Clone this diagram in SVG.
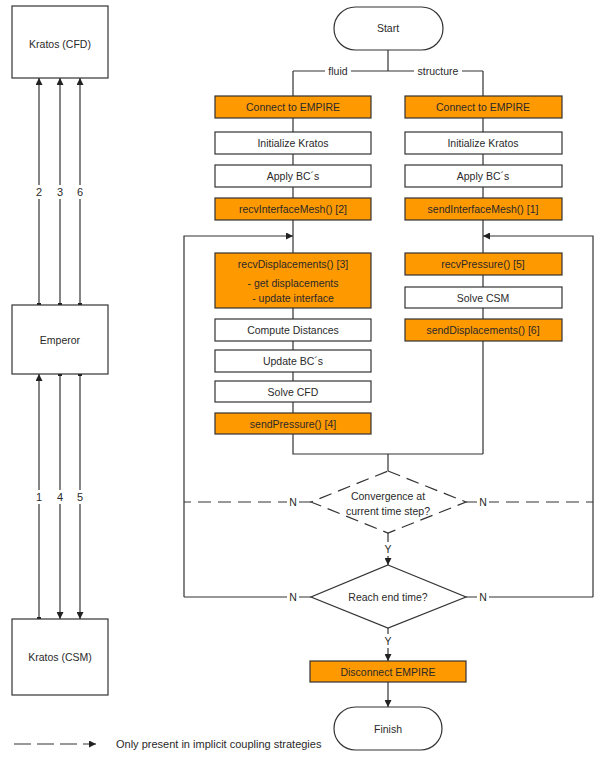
<svg xmlns="http://www.w3.org/2000/svg" width="600" height="762" viewBox="0 0 600 762">
<style>
text{font-family:"Liberation Sans",Arial,sans-serif;font-size:10.5px;fill:#2a2a2a;text-anchor:middle;dominant-baseline:central}
.box{fill:#fff;stroke:#333;stroke-width:1.2}
.or{fill:#ff9900;stroke:#333;stroke-width:1.2}
.ln{fill:none;stroke:#333;stroke-width:1.2}
.dash{fill:none;stroke:#333;stroke-width:1.2;stroke-dasharray:13 7}
.lbl{fill:#fff;stroke:none}
</style>
<defs>
<marker id="ah" viewBox="0 0 10 10" refX="10" refY="5" markerWidth="7" markerHeight="7" markerUnits="userSpaceOnUse" orient="auto"><path d="M0,0 L10,5 L0,10 z" fill="#222"/></marker>
<marker id="dot" viewBox="0 0 4 4" refX="2" refY="2" markerWidth="4" markerHeight="4" markerUnits="userSpaceOnUse"><rect width="4" height="4" fill="#222"/></marker>
</defs>
<rect width="600" height="762" fill="#fff"/>

<g id="connectors">
<path class="ln" d="M39,305 V78" marker-start="url(#dot)" marker-end="url(#ah)"/>
<path class="ln" d="M60,305 V78" marker-start="url(#dot)" marker-end="url(#ah)"/>
<path class="ln" d="M80,305 V78" marker-start="url(#dot)" marker-end="url(#ah)"/>
<path class="ln" d="M39,619 V374" marker-start="url(#dot)" marker-end="url(#ah)"/>
<path class="ln" d="M60,374 V619" marker-start="url(#dot)" marker-end="url(#ah)"/>
<path class="ln" d="M80,374 V619" marker-start="url(#dot)" marker-end="url(#ah)"/>
<rect class="lbl" x="34" y="185" width="10" height="14"/>
<rect class="lbl" x="55" y="185" width="10" height="14"/>
<rect class="lbl" x="75" y="185" width="10" height="14"/>
<rect class="lbl" x="34" y="490" width="10" height="14"/>
<rect class="lbl" x="55" y="490" width="10" height="14"/>
<rect class="lbl" x="75" y="490" width="10" height="14"/>
<text x="39" y="192" style="font-size:11px">2</text><text x="60" y="192" style="font-size:11px">3</text><text x="80" y="192" style="font-size:11px">6</text>
<text x="39" y="497" style="font-size:11px">1</text><text x="60" y="497" style="font-size:11px">4</text><text x="80" y="497" style="font-size:11px">5</text>

<path class="ln" d="M388,50 V71 M293,71 H483 M293,71 V96 M483,71 V96"/>
<rect class="lbl" x="325" y="64" width="26" height="14"/>
<rect class="lbl" x="414" y="64" width="48" height="14"/>
<text x="338" y="71">fluid</text>
<text x="438" y="71">structure</text>
<path class="ln" d="M293,118 V132 M293,154 V165 M293,187 V198 M293,220 V253 M293,308 V319 M293,341 V350 M293,372 V381 M293,402 V413 M293,434 V454 H483"/>
<path class="ln" d="M483,118 V132 M483,154 V165 M483,187 V198 M483,220 V253 M483,275 V287 M483,308 V319 M483,341 V454"/>
<path class="ln" d="M388,454 V471"/>
<path class="ln" d="M184,597 V236 H293" marker-end="url(#ah)"/>
<path class="ln" d="M593,597 V236 H483" marker-end="url(#ah)"/>
<path class="ln" d="M311,597 H184 M466,597 H593"/>
<path class="dash" d="M311,502 H184 M466,502 H593"/>
<path class="dash" d="M388,533 V565" marker-end="url(#ah)"/>
<path class="ln" d="M388,628 V661" marker-end="url(#ah)"/>
<path class="ln" d="M388,682 V707" marker-end="url(#ah)"/>
<rect class="lbl" x="287" y="495" width="12" height="14"/>
<rect class="lbl" x="477" y="495" width="12" height="14"/>
<rect class="lbl" x="287" y="590" width="12" height="14"/>
<rect class="lbl" x="477" y="590" width="12" height="14"/>
<rect class="lbl" x="382" y="542" width="12" height="14"/>
<rect class="lbl" x="382" y="634" width="12" height="14"/>
<text x="293" y="502">N</text><text x="483" y="502">N</text>
<text x="293" y="597">N</text><text x="483" y="597">N</text>
<text x="388" y="549">Y</text><text x="388" y="641">Y</text>
</g>

<g id="kratos-cfd"><rect class="box" x="12" y="6" width="96" height="72"/><text x="60" y="44">Kratos (CFD)</text></g>
<g id="emperor"><rect class="box" x="12" y="305" width="96" height="69"/><text x="60" y="340">Emperor</text></g>
<g id="kratos-csm"><rect class="box" x="12" y="619" width="96" height="76"/><text x="60" y="657">Kratos (CSM)</text></g>

<g id="start"><rect class="box" x="334" y="7" width="109" height="43" rx="21.5"/><text x="388" y="28">Start</text></g>

<g id="f-connect"><rect class="or" x="215" y="96" width="156" height="22"/><text x="293" y="107">Connect to EMPIRE</text></g>
<g id="f-init"><rect class="box" x="215" y="132" width="156" height="22"/><text x="293" y="143">Initialize Kratos</text></g>
<g id="f-bc"><rect class="box" x="215" y="165" width="156" height="22"/><text x="293" y="176">Apply BC´s</text></g>
<g id="f-mesh"><rect class="or" x="215" y="198" width="156" height="22"/><text x="293" y="209">recvInterfaceMesh() [2]</text></g>
<g id="f-recv"><rect class="or" x="215" y="253" width="156" height="55"/><text x="293" y="264">recvDisplacements() [3]</text><text x="293" y="283">- get displacements</text><text x="293" y="298">- update interface</text></g>
<g id="f-dist"><rect class="box" x="215" y="319" width="156" height="22"/><text x="293" y="330">Compute Distances</text></g>
<g id="f-upd"><rect class="box" x="215" y="350" width="156" height="22"/><text x="293" y="361">Update BC´s</text></g>
<g id="f-solve"><rect class="box" x="215" y="381" width="156" height="21"/><text x="293" y="391.5">Solve CFD</text></g>
<g id="f-send"><rect class="or" x="215" y="413" width="156" height="21"/><text x="293" y="423.5">sendPressure() [4]</text></g>

<g id="s-connect"><rect class="or" x="405" y="96" width="157" height="22"/><text x="483" y="107">Connect to EMPIRE</text></g>
<g id="s-init"><rect class="box" x="405" y="132" width="157" height="22"/><text x="483" y="143">Initialize Kratos</text></g>
<g id="s-bc"><rect class="box" x="405" y="165" width="157" height="22"/><text x="483" y="176">Apply BC´s</text></g>
<g id="s-mesh"><rect class="or" x="405" y="198" width="157" height="22"/><text x="483" y="209">sendInterfaceMesh() [1]</text></g>
<g id="s-recv"><rect class="or" x="405" y="253" width="157" height="22"/><text x="483" y="264">recvPressure() [5]</text></g>
<g id="s-solve"><rect class="box" x="405" y="287" width="157" height="21"/><text x="483" y="297.5">Solve CSM</text></g>
<g id="s-send"><rect class="or" x="405" y="319" width="157" height="22"/><text x="483" y="330">sendDisplacements() [6]</text></g>

<g id="convergence"><path class="dash" d="M388,471 L466,502 L388,533 L311,502 Z" fill="#fff"/><text x="388" y="496">Convergence at</text><text x="388" y="511">current time step?</text></g>
<g id="endtime"><path class="box" d="M388,565 L466,597 L388,628 L311,597 Z"/><text x="388" y="597">Reach end time?</text></g>
<g id="disconnect"><rect class="or" x="310" y="661" width="156" height="21"/><text x="388" y="671.5">Disconnect EMPIRE</text></g>
<g id="finish"><rect class="box" x="334" y="707" width="108" height="43" rx="21.5"/><text x="388" y="729">Finish</text></g>

<g id="legend">
<path class="ln" d="M14,744 H96" stroke-dasharray="17 6" marker-end="url(#ah)"/>
<text x="116" y="744" style="text-anchor:start;font-size:11px">Only present in implicit coupling strategies</text>
</g>
</svg>
